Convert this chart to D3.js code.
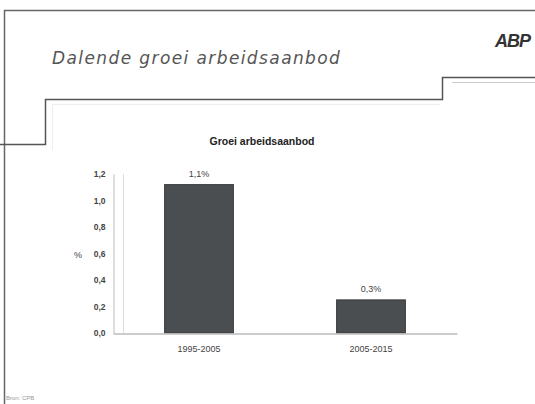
<!DOCTYPE html>
<html>
<head>
<meta charset="utf-8">
<script src="https://cdn.jsdelivr.net/npm/d3@7"></script>
<style>
  html, body { margin: 0; padding: 0; background: #fff; }
  svg { display: block; }
</style>
</head>
<body>
<svg id="slide" width="535" height="404"></svg>
<script>
// Growth of labour supply per period (percent per year)
const categories = ["1995-2005", "2005-2015"];
const growth = [1.12, 0.25];
const yTicks = [0, 0.2, 0.4, 0.6, 0.8, 1.0, 1.2];

const svg = d3.select("#slide");
const ink = "#444";
const sans = "Liberation Sans, Arial, sans-serif";

// Slide frame
svg.append("path")
  .attr("d", "M535,10.5 H4.5 V404")
  .attr("fill", "none").attr("stroke", "#666").attr("stroke-width", 1.5);

// Stepped header rule
svg.append("path")
  .attr("d", "M0,144.5 H45.5 V99.5 H442.5 V77.5 H535")
  .attr("fill", "none").attr("stroke", "#555").attr("stroke-width", 1.5);
svg.append("path")
  .attr("d", "M452,82.5 H535")
  .attr("fill", "none").attr("stroke", "#ccc").attr("stroke-width", 1);
svg.append("path")
  .attr("d", "M52.5,104 V150 M52,104.5 H440")
  .attr("fill", "none").attr("stroke", "#eee").attr("stroke-width", 1);

// Slide title and logo
svg.append("text")
  .attr("x", 52).attr("y", 64)
  .attr("font-family", "DejaVu Sans, sans-serif")
  .attr("font-size", 17).attr("font-style", "italic")
  .attr("letter-spacing", 1.4)
  .attr("fill", "#555")
  .text("Dalende groei arbeidsaanbod");

svg.append("text")
  .attr("x", 530).attr("y", 47)
  .attr("text-anchor", "end")
  .attr("font-family", sans)
  .attr("font-size", 18).attr("font-weight", "bold").attr("font-style", "italic")
  .attr("letter-spacing", -1)
  .attr("fill", "#333")
  .text("ABP");

// Chart
const x = d3.scaleBand()
  .domain(categories)
  .range([113, 457])
  .paddingInner(0.6)
  .paddingOuter(0.3);

const y = d3.scaleLinear()
  .domain([0, 1.2])
  .range([333, 174]);

const fmt = v => d3.format(".1f")(v).replace(".", ",");

svg.append("text")
  .attr("x", 262).attr("y", 145)
  .attr("text-anchor", "middle")
  .attr("font-family", sans)
  .attr("font-size", 10.5).attr("font-weight", "bold")
  .attr("fill", "#222")
  .text("Groei arbeidsaanbod");

// Back wall edge
svg.append("line")
  .attr("x1", 123.5).attr("x2", 123.5)
  .attr("y1", y(1.2)).attr("y2", y(0))
  .attr("stroke", "#ddd");

// Y axis
const yAxis = svg.append("g")
  .attr("transform", "translate(113.5,0)")
  .call(d3.axisLeft(y).tickValues(yTicks).tickSize(0).tickPadding(8)
    .tickFormat(d => fmt(d)));
yAxis.select(".domain").attr("stroke", "#bbb");
yAxis.selectAll("text")
  .attr("font-family", sans)
  .attr("font-size", 8.5).attr("font-weight", "bold").attr("fill", ink);

svg.append("text")
  .attr("x", 78).attr("y", 258)
  .attr("text-anchor", "middle")
  .attr("font-family", sans)
  .attr("font-size", 9).attr("fill", ink)
  .text("%");

// Bars
svg.selectAll("rect.bar")
  .data(categories)
  .join("rect")
  .attr("class", "bar")
  .attr("x", d => x(d))
  .attr("width", x.bandwidth())
  .attr("y", (d, i) => y(growth[i]))
  .attr("height", (d, i) => y(0) - y(growth[i]))
  .attr("fill", "#4b4e51")
  .attr("stroke", "#3a3c3e").attr("stroke-width", 1);

// Value labels
svg.selectAll("text.val")
  .data(categories)
  .join("text")
  .attr("class", "val")
  .attr("x", d => x(d) + x.bandwidth() / 2)
  .attr("y", (d, i) => y(growth[i]) - 8)
  .attr("text-anchor", "middle")
  .attr("font-family", sans)
  .attr("font-size", 9).attr("fill", ink)
  .text((d, i) => fmt(growth[i]) + "%");

// X axis
const xAxis = svg.append("g")
  .attr("transform", `translate(0,${y(0) + 0.5})`)
  .call(d3.axisBottom(x).tickSize(0).tickPadding(12));
xAxis.select(".domain").attr("stroke", "#bbb").attr("stroke-width", 1.5);
xAxis.selectAll("text")
  .attr("font-family", sans)
  .attr("font-size", 9).attr("fill", ink);

// Source note
svg.append("text")
  .attr("x", 6).attr("y", 400)
  .attr("font-family", sans)
  .attr("font-size", 6).attr("fill", "#999")
  .text("Bron: CPB");
</script>
</body>
</html>
